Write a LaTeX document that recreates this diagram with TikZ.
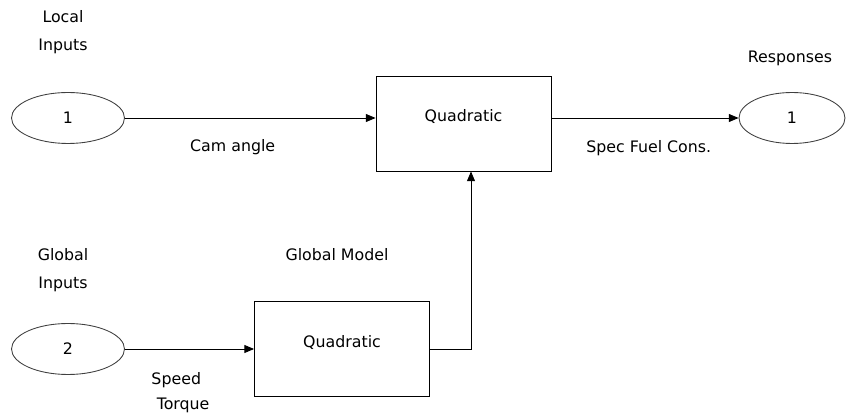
\documentclass[tikz,border=0pt]{standalone}
\usepackage{fontspec}
\setmainfont{DejaVu Sans}
\usetikzlibrary{arrows.meta,shapes.geometric}
\definecolor{outline}{HTML}{404040}
\tikzset{flow/.style={-{Triangle[length=5.5pt,width=4.5pt]}, line width=.5pt}, port/.style={draw=outline, ellipse, line width=.5pt, minimum width=2.26cm, minimum height=1.02cm, inner sep=0pt, font=\fontsize{9}{11}\selectfont}, block/.style={draw, line width=.5pt, minimum width=3.5cm, minimum height=1.9cm, text height=7pt, text depth=9pt, font=\fontsize{9}{11}\selectfont}, lab/.style={font=\fontsize{9}{16}\selectfont, align=center}}

\begin{document}
\begin{tikzpicture}[x=0.02cm, y=-0.02cm]
\useasboundingbox (0,0) rectangle (846,418);
\node[port] (loc) at (68,118) {1};
\node[port] (glob) at (68,349) {2};
\node[port, minimum width=2.12cm] (resp) at (792,118) {1};
\node[block] (quad) at (463.5,123.5) {Quadratic};
\node[block] (gm) at (342,349) {Quadratic};
\node[lab] (locname) at (63,32) {Local\\Inputs};
\node[lab] (globname) at (63,270) {Global\\Inputs};
\node[lab] (respname) at (790,58) {Responses};
\node[lab] (gmname) at (337,255) {Global Model};
\draw[flow] (loc) -- node[lab, pos=.43, yshift=-16.4pt] {Cam angle} (loc -| quad.west);
\draw[flow] (loc -| quad.east) -- node[lab, pos=.52, yshift=-17pt] {Spec Fuel Cons.} (resp);
\draw[flow] (glob) -- node[lab, pos=.43, yshift=-25pt, align=left, font=\fontsize{9}{14}\selectfont] {Speed\\\hspace{3pt}Torque} (gm);
\draw[flow] (gm.east) -| ([xshift=.15cm]quad.south);
\end{tikzpicture}
\end{document}
